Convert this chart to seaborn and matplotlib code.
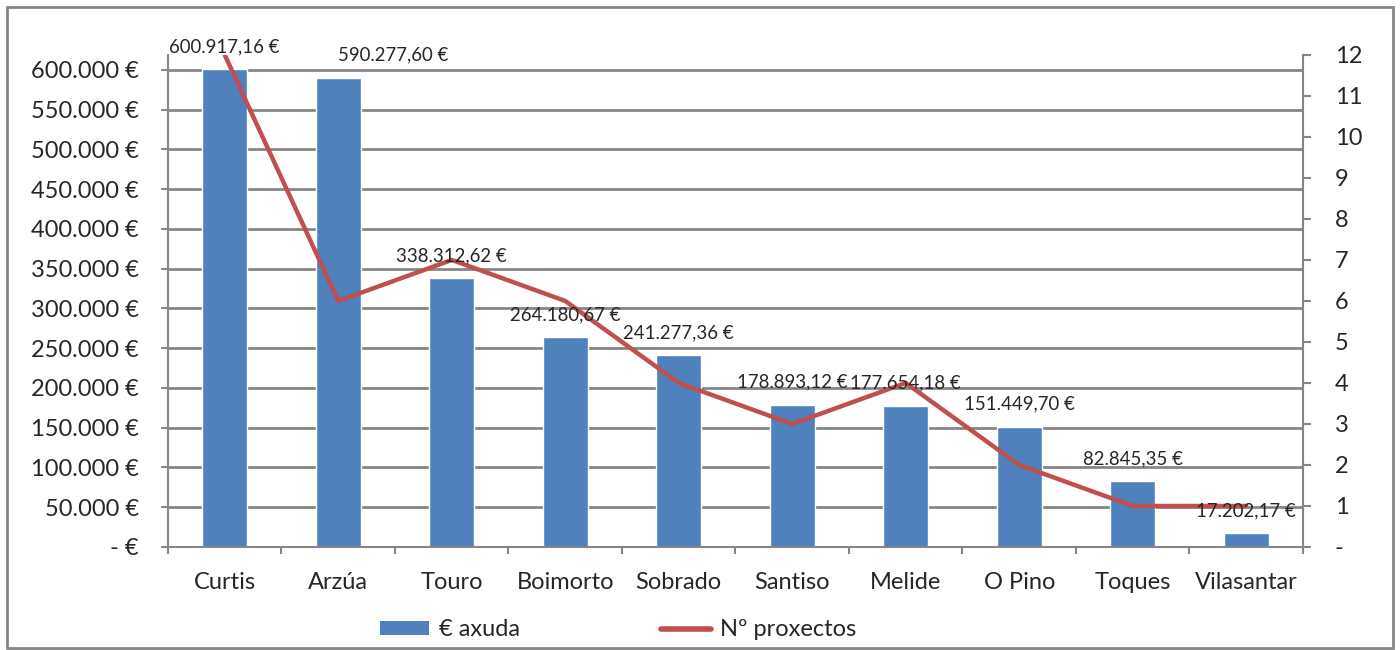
import numpy as np
import pandas as pd
import seaborn as sns
from matplotlib import pyplot
from matplotlib.patches import Patch, Rectangle
from matplotlib.lines import Line2D

sns.set_style("white")
pyplot.rcParams['font.family'] = ['Lato', 'DejaVu Sans']

concellos = ['Curtis', 'Arzúa', 'Touro', 'Boimorto', 'Sobrado', 'Santiso',
             'Melide', 'O Pino', 'Toques', 'Vilasantar']
axuda = [600917.16, 590277.60, 338312.62, 264180.67, 241277.36, 178893.12,
         177654.18, 151449.70, 82845.35, 17202.17]
proxectos = [12, 6, 7, 6, 4, 3, 4, 2, 1, 1]

BLUE = '#4F81BD'
RED = '#C0504D'
GRID = '#868686'


def euro(v, decimals=2):
    s = f"{v:,.{decimals}f}"
    s = s.replace(',', 'X').replace('.', ',').replace('X', '.')
    return s + ' €'


df = pd.DataFrame({'concello': concellos, 'axuda': axuda, 'proxectos': proxectos})

fig = pyplot.figure(figsize=(14, 6.5), dpi=100)
ax = fig.add_axes([0.12, 0.1585, 0.8107, 0.757])

sns.barplot(data=df, x='concello', y='axuda', color=BLUE, width=0.4,
            saturation=1, ax=ax, zorder=2)
ax.set_xlim(-0.5, len(concellos) - 0.5)
ax.set_ylim(0, 618868)
ax.set_yticks(np.arange(0, 600001, 50000))
ax.set_yticklabels(['- €'] + [euro(v, 0) for v in np.arange(50000, 600001, 50000)])
ax.yaxis.grid(True, color=GRID, linewidth=2, zorder=0)
ax.set_axisbelow(True)
ax.set_xlabel('')
ax.set_ylabel('')
for s in ['top', 'right']:
    ax.spines[s].set_visible(False)
for s in ['left', 'bottom']:
    ax.spines[s].set_color(GRID)
    ax.spines[s].set_linewidth(1.5)
ax.tick_params(axis='y', direction='out', length=5, width=1.5, color=GRID,
               pad=16, labelsize=17, left=True)
ax.tick_params(axis='x', which='major', length=0, pad=18, labelsize=17)
ax.set_xticks(np.arange(-0.5, len(concellos), 1), minor=True)
ax.tick_params(axis='x', which='minor', direction='out', length=5, width=1.5,
               color=GRID, bottom=True)

ax2 = ax.twinx()
pos = np.arange(len(concellos))
sns.lineplot(x=pos, y=proxectos, color=RED, linewidth=3.2, ax=ax2, zorder=3)
ax2.set_ylim(0, 12)
ax2.set_yticks(range(0, 13))
ax2.set_yticklabels(['-'] + [str(i) for i in range(1, 13)])
ax2.tick_params(axis='y', direction='out', length=6, width=1.5, color=GRID,
                pad=17, labelsize=17, right=True)
for s in ['top', 'left', 'bottom']:
    ax2.spines[s].set_visible(False)
ax2.spines['right'].set_color(GRID)
ax2.spines['right'].set_linewidth(1.5)
ax2.set_xlim(-0.5, len(concellos) - 0.5)
ax2.set_ylabel('')

# data labels above the bars (Arzúa label moved to the right as in the original)
scale = 12 / 618868
for i, v in enumerate(axuda):
    dx = 0.48 if i == 1 else 0.0
    ax2.annotate(euro(v), (i + dx, v * scale), xytext=(0, 10),
                 textcoords='offset points', ha='center', va='bottom',
                 fontsize=13.4, zorder=5)

handles = [Patch(facecolor=BLUE, edgecolor='none'),
           Line2D([0], [0], color=RED, linewidth=4, solid_capstyle='round')]
fig.legend(handles, ['€ axuda', 'Nº proxectos'], loc='center',
           bbox_to_anchor=(0.4416, 0.031), ncol=2, frameon=False, fontsize=17,
           handlelength=2.1, handleheight=0.55, columnspacing=6.0,
           handletextpad=0.4)

fig.add_artist(Rectangle((0.005, 0.003), 0.99, 0.986, transform=fig.transFigure,
                         fill=False, edgecolor=GRID, linewidth=2))

pyplot.savefig('out.png', dpi=100)
